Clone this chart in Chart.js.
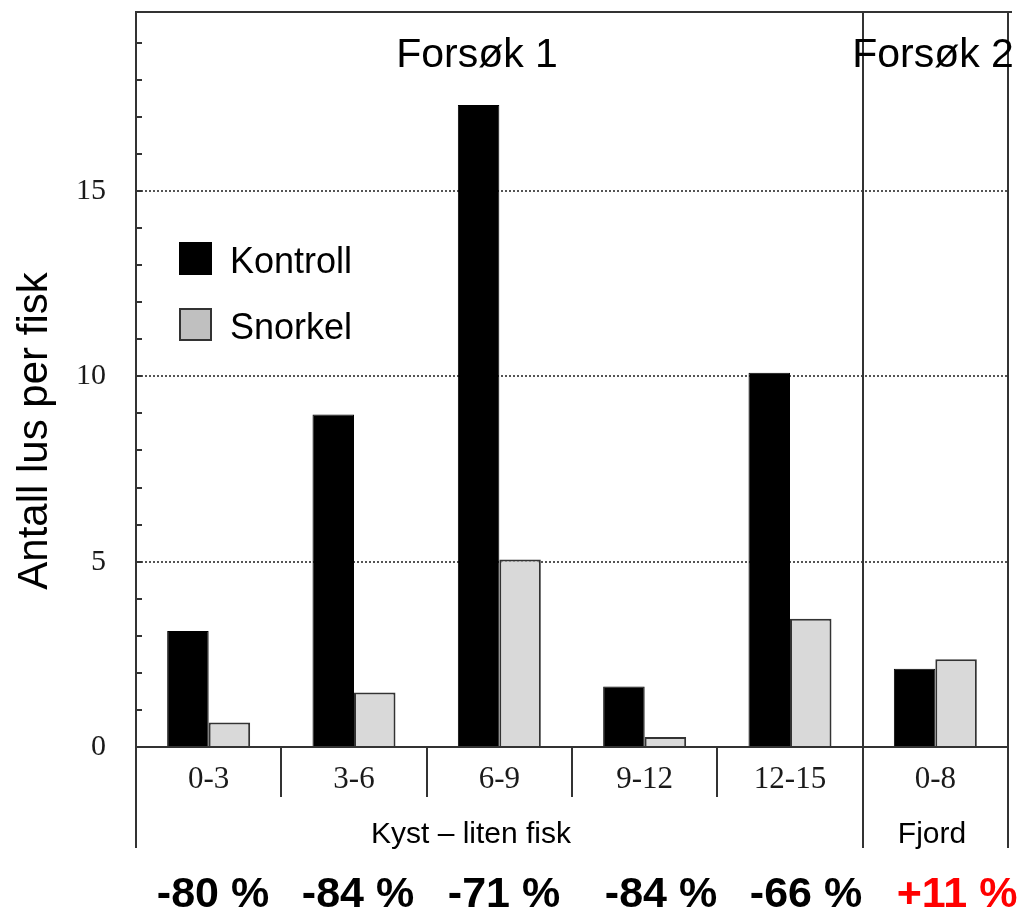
<!DOCTYPE html>
<html><head><meta charset="utf-8">
<script src="https://cdn.jsdelivr.net/npm/chart.js@4"></script>
<style>html,body{margin:0;padding:0;background:#fff;} canvas{display:block;}</style>
</head><body>
<canvas id="c" width="1026" height="910"></canvas>
<script>
const categories = ['0-3', '3-6', '6-9', '9-12', '12-15', '0-8'];
const kontroll = [3.13, 8.97, 17.32, 1.63, 10.10, 2.11];
const snorkel = [0.66, 1.47, 5.06, 0.27, 3.46, 2.37];
const seriesNames = ['Kontroll', 'Snorkel'];
const yTitle = 'Antall lus per fisk';
const trialLabels = ['Forsøk 1', 'Forsøk 2'];
const groupLabels = ['Kyst – liten fisk', 'Fjord'];
const changeLabels = ['-80 %', '-84 %', '-71 %', '-84 %', '-66 %', '+11 %'];
const changeIsIncrease = [false, false, false, false, false, true];

const AXIS = '#333333';
const layoutX = { trial: [477, 933], group: [471, 932], change: [213, 358, 504, 661, 806, 957] };

const deco = {
  id: 'deco',
  afterDraw(chart) {
    const { ctx, chartArea: a, scales: { x, y } } = chart;
    ctx.save();
    ctx.strokeStyle = AXIS; ctx.lineWidth = 2;
    const line = (x1, y1, x2, y2) => { ctx.beginPath(); ctx.moveTo(x1, y1); ctx.lineTo(x2, y2); ctx.stroke(); };
    line(a.left - 1, a.top, a.right + 4, a.top);
    line(a.left, a.bottom, a.left, 848);
    const n = categories.length;
    const half = (x.getPixelForValue(1) - x.getPixelForValue(0)) / 2;
    for (let i = 1; i < n; i++) {
      const bx = Math.round(x.getPixelForValue(i) - half);
      if (i === n - 1) line(bx, a.top, bx, 848); else line(bx, a.bottom, bx, 797);
    }
    line(a.right, a.top, a.right, 848);
    for (let v = 1; v < y.max; v++) {
      const py = Math.round(y.getPixelForValue(v));
      line(a.left, py, a.left + 6, py);
    }
    // legend
    const legendColors = ['#000000', '#c0c0c0'];
    const legendY = [243, 309];
    ctx.font = '36px "Liberation Sans", Arial, sans-serif';
    ctx.textBaseline = 'alphabetic'; ctx.textAlign = 'left';
    for (let i = 0; i < 2; i++) {
      ctx.fillStyle = legendColors[i];
      ctx.fillRect(180, legendY[i], 31, 31);
      ctx.lineWidth = 2; ctx.strokeStyle = i === 0 ? '#000' : AXIS;
      ctx.strokeRect(180, legendY[i], 31, 31);
      ctx.fillStyle = '#000';
      ctx.fillText(seriesNames[i], 230, legendY[i] + 30);
    }
    // trial titles
    ctx.textAlign = 'center';
    ctx.font = '41px "Liberation Sans", Arial, sans-serif';
    ctx.fillText(trialLabels[0], layoutX.trial[0], 67);
    ctx.fillText(trialLabels[1], layoutX.trial[1], 67);
    // group labels
    ctx.font = '30px "Liberation Sans", Arial, sans-serif';
    ctx.fillText(groupLabels[0], layoutX.group[0], 843);
    ctx.fillText(groupLabels[1], layoutX.group[1], 843);
    // change labels
    ctx.font = 'bold 43px "Liberation Sans", Arial, sans-serif';
    for (let i = 0; i < changeLabels.length; i++) {
      ctx.fillStyle = changeIsIncrease[i] ? '#ff0000' : '#000000';
      ctx.fillText(changeLabels[i], layoutX.change[i], 907);
    }
    // y title
    ctx.fillStyle = '#000';
    ctx.font = '42px "Liberation Sans", Arial, sans-serif';
    ctx.translate(47, 431);
    ctx.rotate(-Math.PI / 2);
    ctx.textAlign = 'center';
    ctx.fillText(yTitle, 0, 0);
    ctx.restore();
  }
};

new Chart(document.getElementById('c'), {
  type: 'bar',
  data: {
    labels: categories,
    datasets: [
      { label: seriesNames[0], data: kontroll, backgroundColor: '#000000', borderColor: '#000000', borderWidth: 1 },
      { label: seriesNames[1], data: snorkel, backgroundColor: '#d9d9d9', borderColor: AXIS, borderWidth: 2 }
    ]
  },
  options: {
    responsive: false,
    animation: false,
    events: [],
    layout: { autoPadding: false, padding: { top: 12, right: 18, left: 0, bottom: 0 } },
    datasets: { bar: { categoryPercentage: 0.571, barPercentage: 1.0 } },
    plugins: { legend: { display: false }, tooltip: { enabled: false }, title: { display: false } },
    scales: {
      x: {
        grid: { display: false, drawTicks: false },
        border: { display: true, color: AXIS, width: 2 },
        ticks: { color: '#1a1a1a', font: { family: '"Liberation Serif", "Times New Roman", serif', size: 31 }, padding: 14, maxRotation: 0, autoSkip: false },
        afterFit(s) { s.height = 163; s.paddingLeft = 0; s.paddingRight = 0; }
      },
      y: {
        min: 0, max: 19.83,
        grid: {
          drawTicks: false,
          color: (c) => (c.tick && c.tick.value > 0 && c.tick.value % 5 === 0) ? '#555555' : 'rgba(0,0,0,0)',
          lineWidth: 2
        },
        border: { display: true, color: AXIS, width: 2, dash: [2, 2] },
        ticks: { stepSize: 5, includeBounds: false, color: '#1a1a1a', font: { family: '"Liberation Serif", "Times New Roman", serif', size: 30 }, padding: 30 },
        afterFit(s) { s.width = 136; s.paddingTop = 0; s.paddingBottom = 0; }
      }
    }
  },
  plugins: [deco]
});
</script>
</body></html>
